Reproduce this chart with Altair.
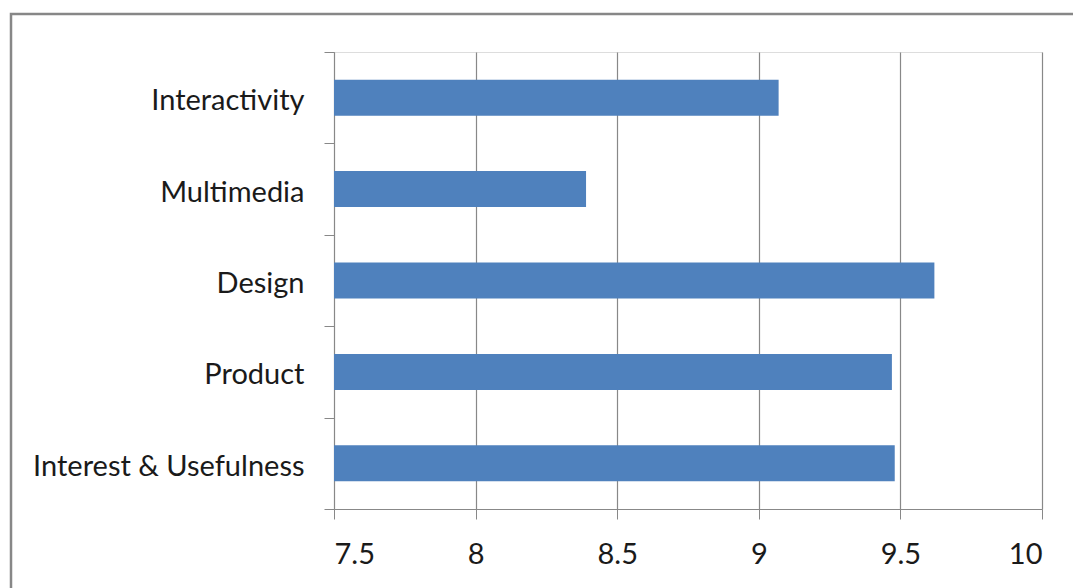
import altair as alt
import pandas as pd

categories = ["Interactivity", "Multimedia", "Design", "Product", "Interest & Usefulness"]
values = [9.07, 8.39, 9.62, 9.47, 9.48]
x_ticks = [7.5, 8, 8.5, 9, 9.5, 10]

df = pd.DataFrame({"category": categories, "value": values})

FONT = "Lato"
GRAY = "#888888"

bars = alt.Chart(df).mark_bar(color="#4f81bd", height=alt.RelativeBandSize(0.394)).encode(
    y=alt.Y("category:N", sort=categories,
            scale=alt.Scale(paddingInner=0, paddingOuter=0),
            axis=alt.Axis(title=None, tickBand="extent", tickSize=10, tickColor=GRAY,
                          domainColor=GRAY, labelFont=FONT, labelFontSize=29,
                          labelColor="#1a1a1a", labelPadding=20, labelLimit=0,
                          labelOffset=3, grid=False)),
    x=alt.X("value:Q", scale=alt.Scale(domain=[7.5, 10], zero=False, nice=False),
            axis=alt.Axis(title=None, values=x_ticks, format="~g", tickSize=10,
                          tickColor=GRAY, domainColor=GRAY, gridColor=GRAY,
                          gridOpacity=1, gridWidth=1.2, labelFont=FONT, labelFontSize=29,
                          labelColor="#1a1a1a", labelPadding=21)),
    x2=alt.datum(7.5),
)

frame = alt.Chart(pd.DataFrame({"f": [1]})).mark_rect(
    fill=None, stroke="#878787", strokeWidth=2.5
).encode(
    x=alt.value(-323), x2=alt.value(760), y=alt.value(-38), y2=alt.value(560)
)

chart = alt.layer(frame, bars).properties(
    width=708, height=457,
    autosize=alt.AutoSizeParams(type="none"),
    padding={"left": 326, "top": 44, "right": 31, "bottom": 79},
).configure_view(stroke=None).configure(background="white")

chart.save("out.html", embed_options={"renderer": "svg", "actions": False})
